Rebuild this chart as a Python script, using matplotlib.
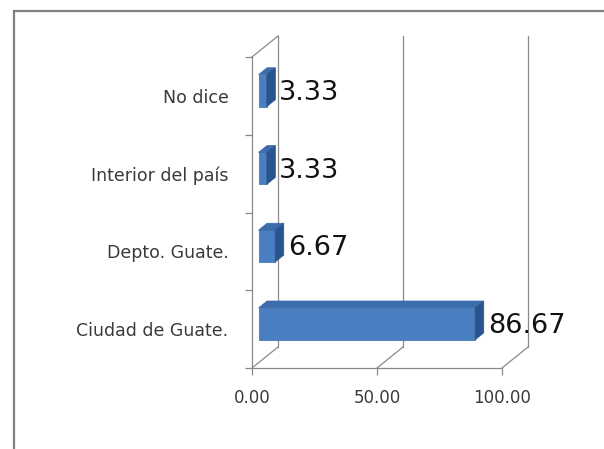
import matplotlib
matplotlib.use("Agg")
import matplotlib.pyplot as plt
import matplotlib.transforms as mtransforms
from matplotlib.patches import Polygon, Rectangle
import numpy as np

categories = ["Ciudad de Guate.", "Depto. Guate.", "Interior del país", "No dice"]
values = [86.67, 6.67, 3.33, 3.33]
value_labels = ["86.67", "6.67", "3.33", "3.33"]
x_ticks = [0, 50, 100]
x_tick_labels = ["0.00", "50.00", "100.00"]

# look of the fake 3-D box (pixels at dpi 100)
DEPTH_X, DEPTH_Y = 26, 21
BAR_FRONT, BAR_BACK = 0.25, 0.58
BAR_HEIGHT = 0.41
GRID = "#8a8a8a"
FRONT = "#4a7fc1"
TOP = "#3b6cab"
SIDE = "#2a548e"

fig = plt.figure(figsize=(6.04, 4.49), dpi=100)
fig.patch.set_facecolor("white")

# outer chart frame (only top and left edges are inside the crop)
fig.patches.append(Rectangle((14 / 604, -0.1), 1.2, (449 - 11) / 449 + 0.1,
                             transform=fig.transFigure, fill=False,
                             edgecolor="#7f7f7f", linewidth=1.6))

ax = fig.add_axes([252 / 604, 81 / 449, 250 / 604, 311 / 449])
ax.set_xlim(0, 100)
ax.set_ylim(-0.5, len(categories) - 0.5)
ax.patch.set_alpha(0)
ax.spines[["top", "right"]].set_visible(False)
for side in ["left", "bottom"]:
    ax.spines[side].set_color(GRID)
    ax.spines[side].set_linewidth(0.9)

ident = mtransforms.IdentityTransform()


def proj(x, y, depth):
    px, py = ax.transData.transform((x, y))
    return px + depth * DEPTH_X, py + depth * DEPTH_Y


def depth_line(p, q, **kw):
    xs, ys = zip(p, q)
    ax.add_line(plt.Line2D(xs, ys, transform=ident, clip_on=False,
                           color=GRID, linewidth=0.9, **kw))


y0, y1 = ax.get_ylim()
# back wall gridlines and floor diagonals
for xv in x_ticks:
    depth_line(proj(xv, y0, 1), proj(xv, y1, 1))
    depth_line(proj(xv, y0, 0), proj(xv, y0, 1))
# top edge of the side wall
depth_line(proj(0, y1, 0), proj(0, y1, 1))

# bars: front face through barh, top and side faces as polygons
pos = np.arange(len(categories))
front_tr = mtransforms.offset_copy(ax.transData, fig=fig,
                                   x=BAR_FRONT * DEPTH_X, y=BAR_FRONT * DEPTH_Y,
                                   units="dots")
ax.barh(pos, values, height=BAR_HEIGHT, color=FRONT, edgecolor="#3a6aa8",
        linewidth=0.5, transform=front_tr, clip_on=False, zorder=3)
for yp, v in zip(pos, values):
    top = [proj(0, yp + BAR_HEIGHT / 2, BAR_FRONT), proj(v, yp + BAR_HEIGHT / 2, BAR_FRONT),
           proj(v, yp + BAR_HEIGHT / 2, BAR_BACK), proj(0, yp + BAR_HEIGHT / 2, BAR_BACK)]
    side = [proj(v, yp - BAR_HEIGHT / 2, BAR_FRONT), proj(v, yp + BAR_HEIGHT / 2, BAR_FRONT),
            proj(v, yp + BAR_HEIGHT / 2, BAR_BACK), proj(v, yp - BAR_HEIGHT / 2, BAR_BACK)]
    ax.add_patch(Polygon(top, closed=True, transform=ident, facecolor=TOP,
                         edgecolor="#3a6aa8", linewidth=0.5, clip_on=False, zorder=3))
    ax.add_patch(Polygon(side, closed=True, transform=ident, facecolor=SIDE,
                         edgecolor="#2a548e", linewidth=0.5, clip_on=False, zorder=3))

for yp, v, lab in zip(pos, values, value_labels):
    ax.annotate(lab, xy=(v, yp), xytext=(19, 3), textcoords="offset pixels",
                ha="left", va="center", fontsize=19.5, color="#111111",
                annotation_clip=False, zorder=4)

# ticks: boundaries on the category axis, labels in between
ax.set_xticks(x_ticks, x_tick_labels)
ax.set_yticks(np.arange(len(categories) + 1) - 0.5)
ax.set_yticklabels([])
ax.set_yticks(pos, categories, minor=True)
ax.tick_params(axis="x", length=5, width=0.9, color=GRID, pad=10,
               labelsize=12, labelcolor="#3a3a3a")
ax.tick_params(axis="y", which="major", length=5, width=0.9, color=GRID)
ax.tick_params(axis="y", which="minor", length=0, pad=17,
               labelsize=12.5, labelcolor="#3a3a3a")

fig.savefig("out.png", dpi=100)
